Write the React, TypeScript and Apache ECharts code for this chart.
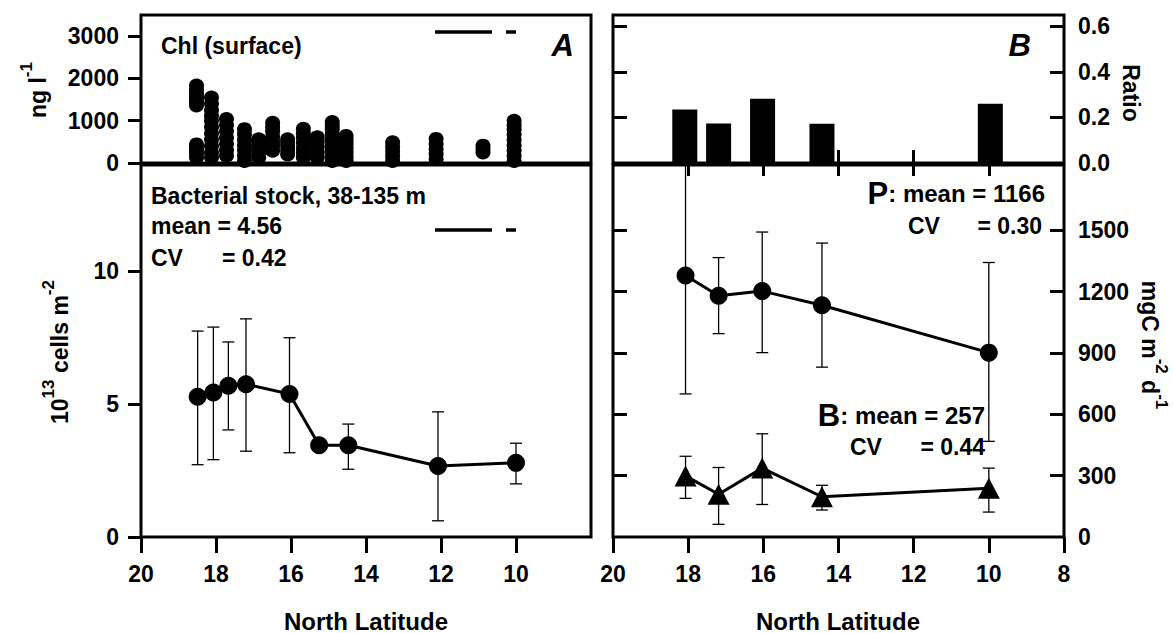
import React, { useEffect, useRef } from "react";
import * as echarts from "echarts";

// ---------- data ----------
// Panel A (top): surface chlorophyll, ng l-1, several samples per station
const chlLat = [18.52, 18.12, 17.72, 17.24, 16.86, 16.49, 16.09, 15.67, 15.3, 14.9, 14.53, 13.29, 12.13, 10.88, 10.05];
const chlValues = [
  [130, 220, 300, 370, 440, 1360, 1430, 1500, 1580, 1650, 1740, 1830],
  [130, 250, 400, 550, 700, 850, 1000, 1120, 1250, 1400, 1550],
  [170, 300, 450, 600, 750, 900, 1040],
  [50, 170, 300, 420, 550, 680, 800],
  [130, 240, 350, 460, 560],
  [290, 400, 500, 620, 750, 850, 950],
  [200, 300, 400, 480, 560],
  [130, 240, 350, 480, 600, 700, 810],
  [130, 250, 380, 500, 610],
  [50, 170, 300, 420, 550, 680, 800, 880, 970],
  [50, 150, 250, 350, 450, 540, 640],
  [50, 160, 270, 380, 490],
  [90, 210, 330, 450, 570],
  [250, 330, 410],
  [50, 170, 300, 420, 550, 680, 800, 900, 1000],
];

// Panel A (bottom): bacterial stock 10^13 cells m-2
const bactLat = [18.49, 18.07, 17.67, 17.2, 16.04, 15.25, 14.47, 12.08, 10.0];
const bactMean = [5.28, 5.44, 5.69, 5.75, 5.38, 3.45, 3.45, 2.67, 2.79];
const bactLo = [2.72, 2.91, 4.03, 3.23, 3.17, null, 2.55, 0.61, 2.0];
const bactHi = [7.75, 7.9, 7.34, 8.21, 7.5, null, 4.25, 4.71, 3.53];

// Panel B (top): ratio B/P
const ratioLat = [18.09, 17.19, 16.02, 14.44, 9.96];
const ratioValues = [0.235, 0.173, 0.282, 0.172, 0.26];

// Panel B (bottom): P and B, mgC m-2 d-1
const pbLat = [18.07, 17.19, 16.03, 14.44, 10.0];
const pMean = [1279, 1180, 1203, 1134, 902];
const pLo = [700, 995, 902, 831, 468];
const pHi = [1850, 1367, 1492, 1438, 1343];
const bMean = [299, 209, 337, 197, 238];
const bLo = [189, 62, 159, 132, 122];
const bHi = [395, 340, 505, 253, 337];

// tick labels
const latTicksLeft = [10, 12, 14, 16, 18, 20];
const latTicksRight = [8, 10, 12, 14, 16, 18, 20];
const latInnerTicks = [10, 12, 14, 16, 18];
const chlTicks = [0, 1000, 2000, 3000];
const bactTicks = [0, 5, 10];
const ratioTicks = [0, 0.2, 0.4, 0.6];
const prodTicks = [0, 300, 600, 900, 1200, 1500];

const FONT = '"Liberation Sans", Arial, Helvetica, sans-serif';
const BLACK = "#000";

export default function App() {
  const ref = useRef<HTMLDivElement>(null);

  useEffect(() => {
    if (!ref.current) return;
    const chart = echarts.init(ref.current, null, { renderer: "svg" });

    const chlData: number[][] = [];
    chlLat.forEach((lat, i) => chlValues[i].forEach((v) => chlData.push([lat, v])));

    const bactErr = bactLat
      .map((lat, i) => [lat, bactLo[i], bactHi[i]])
      .filter((d) => d[1] != null);
    const pErr = pbLat.map((lat, i) => [lat, pLo[i], pHi[i]]);
    const bErr = pbLat.map((lat, i) => [lat, bLo[i], bHi[i]]);

    const plain = (v: number) => String(v);
    const label = (extra: any = {}) => ({
      color: BLACK,
      fontFamily: FONT,
      fontWeight: "bold",
      fontSize: 23,
      formatter: plain,
      ...extra,
    });

    const errRender = (params: any, api: any) => {
      const x = api.value(0);
      const p1 = api.coord([x, api.value(1)]);
      const p2 = api.coord([x, api.value(2)]);
      const w = 6;
      const st = { stroke: BLACK, lineWidth: 1.3 };
      return {
        type: "group",
        children: [
          { type: "line", shape: { x1: p1[0], y1: p1[1], x2: p2[0], y2: p2[1] }, style: st },
          { type: "line", shape: { x1: p1[0] - w, y1: p1[1], x2: p1[0] + w, y2: p1[1] }, style: st },
          { type: "line", shape: { x1: p2[0] - w, y1: p2[1], x2: p2[0] + w, y2: p2[1] }, style: st },
        ],
      };
    };

    const gridBase = { show: true, borderColor: BLACK, borderWidth: 3, backgroundColor: "transparent" };
    const xBase = {
      type: "value",
      min: 8,
      max: 20,
      inverse: true,
      interval: 2,
      splitLine: { show: false },
      axisLine: { show: false },
    };
    const tickStyle = { color: BLACK, width: 3 };

    const txt = (text: string, x: number, y: number, extra: any = {}) => ({
      type: "text",
      x,
      y,
      style: {
        text,
        fill: BLACK,
        fontFamily: FONT,
        fontWeight: "bold",
        fontSize: 23,
        align: "left",
        verticalAlign: "middle",
        ...extra,
      },
    });

    const supRich = {
      a: { fontFamily: FONT, fontWeight: "bold", fontSize: 23, lineHeight: 40, fill: BLACK },
      s: { fontFamily: FONT, fontWeight: "bold", fontSize: 17, lineHeight: 18, verticalAlign: "top", fill: BLACK },
    };
    const bigRich = {
      b: { fontFamily: FONT, fontWeight: "bold", fontSize: 31, lineHeight: 30, fill: BLACK },
      s: { fontFamily: FONT, fontWeight: "bold", fontSize: 24, lineHeight: 30, fill: BLACK },
    };

    const option: any = {
      animation: false,
      backgroundColor: "#fff",
      grid: [
        { ...gridBase, left: 141, top: 15, width: 450, height: 148 },
        { ...gridBase, left: 613, top: 15, width: 451, height: 148 },
        { ...gridBase, left: 141, top: 165, width: 450, height: 372 },
        { ...gridBase, left: 613, top: 165, width: 451, height: 372 },
      ],
      xAxis: [
        { ...xBase, gridIndex: 0, axisTick: { show: false }, axisLabel: { show: false } },
        {
          ...xBase,
          gridIndex: 1,
          position: "bottom",
          axisTick: { inside: true, length: 13, lineStyle: tickStyle, customValues: latInnerTicks },
          axisLabel: { show: false },
        },
        {
          ...xBase,
          gridIndex: 1,
          position: "top",
          axisTick: { inside: true, length: 13, lineStyle: tickStyle, customValues: latInnerTicks },
          axisLabel: { show: false },
        },
        {
          ...xBase,
          gridIndex: 2,
          position: "bottom",
          axisTick: { inside: false, length: 16, lineStyle: tickStyle, customValues: latTicksLeft },
          axisLabel: label({ customValues: latTicksLeft, margin: 25 }),
        },
        {
          ...xBase,
          gridIndex: 3,
          position: "bottom",
          axisTick: { inside: false, length: 16, lineStyle: tickStyle, customValues: latTicksRight },
          axisLabel: label({ customValues: latTicksRight, margin: 25 }),
        },
      ],
      yAxis: [
        {
          type: "value",
          gridIndex: 0,
          position: "left",
          min: 0,
          max: 3500,
          interval: 1000,
          splitLine: { show: false },
          axisLine: { show: false },
          axisTick: { inside: false, length: 13, lineStyle: tickStyle, customValues: chlTicks },
          axisLabel: label({ customValues: chlTicks, margin: 22 }),
        },
        {
          type: "value",
          gridIndex: 1,
          position: "right",
          min: 0,
          max: 0.65,
          interval: 0.2,
          splitLine: { show: false },
          axisLine: { show: false },
          axisTick: { inside: true, length: 14, lineStyle: tickStyle, customValues: [0.2, 0.4, 0.6] },
          axisLabel: label({ customValues: ratioTicks, margin: 14, formatter: (v: number) => v.toFixed(1) }),
        },
        {
          type: "value",
          gridIndex: 1,
          position: "left",
          min: 0,
          max: 0.65,
          interval: 0.2,
          splitLine: { show: false },
          axisLine: { show: false },
          axisTick: { inside: true, length: 14, lineStyle: tickStyle, customValues: [0.2, 0.4, 0.6] },
          axisLabel: { show: false },
        },
        {
          type: "value",
          gridIndex: 2,
          position: "left",
          min: 0,
          max: 14,
          interval: 5,
          splitLine: { show: false },
          axisLine: { show: false },
          axisTick: { inside: false, length: 13, lineStyle: tickStyle, customValues: bactTicks },
          axisLabel: label({ customValues: bactTicks, margin: 22 }),
        },
        {
          type: "value",
          gridIndex: 3,
          position: "right",
          min: 0,
          max: 1820,
          interval: 300,
          splitLine: { show: false },
          axisLine: { show: false },
          axisTick: { inside: true, length: 14, lineStyle: tickStyle, customValues: prodTicks.slice(1) },
          axisLabel: label({ customValues: prodTicks, margin: 14 }),
        },
        {
          type: "value",
          gridIndex: 3,
          position: "left",
          min: 0,
          max: 1820,
          interval: 300,
          splitLine: { show: false },
          axisLine: { show: false },
          axisTick: { inside: true, length: 14, lineStyle: tickStyle, customValues: prodTicks.slice(1) },
          axisLabel: { show: false },
        },
      ],
      series: [
        {
          type: "scatter",
          xAxisIndex: 0,
          yAxisIndex: 0,
          symbol: "circle",
          symbolSize: [15, 14],
          itemStyle: { color: BLACK, opacity: 1 },
          clip: false,
          data: chlData,
        },
        {
          type: "bar",
          xAxisIndex: 1,
          yAxisIndex: 1,
          barWidth: 25,
          itemStyle: { color: BLACK },
          data: ratioLat.map((l, i) => [l, ratioValues[i]]),
        },
        {
          type: "custom",
          xAxisIndex: 3,
          yAxisIndex: 3,
          renderItem: errRender,
          clip: true,
          z: 1,
          encode: { x: 0, y: [1, 2] },
          data: bactErr,
        },
        {
          type: "line",
          xAxisIndex: 3,
          yAxisIndex: 3,
          symbol: "circle",
          symbolSize: 18,
          z: 3,
          itemStyle: { color: BLACK },
          lineStyle: { color: BLACK, width: 3 },
          data: bactLat.map((l, i) => [l, bactMean[i]]),
        },
        {
          type: "custom",
          xAxisIndex: 4,
          yAxisIndex: 4,
          renderItem: errRender,
          clip: true,
          z: 1,
          encode: { x: 0, y: [1, 2] },
          data: pErr,
        },
        {
          type: "custom",
          xAxisIndex: 4,
          yAxisIndex: 4,
          renderItem: errRender,
          clip: true,
          z: 1,
          encode: { x: 0, y: [1, 2] },
          data: bErr,
        },
        {
          type: "line",
          xAxisIndex: 4,
          yAxisIndex: 4,
          symbol: "circle",
          symbolSize: 18,
          z: 3,
          itemStyle: { color: BLACK },
          lineStyle: { color: BLACK, width: 3 },
          data: pbLat.map((l, i) => [l, pMean[i]]),
        },
        {
          type: "line",
          xAxisIndex: 4,
          yAxisIndex: 4,
          symbol: "triangle",
          symbolSize: [22, 21],
          z: 3,
          itemStyle: { color: BLACK },
          lineStyle: { color: BLACK, width: 3 },
          data: pbLat.map((l, i) => [l, bMean[i]]),
        },
      ],
      graphic: [
        txt("Chl (surface)", 161, 46),
        { type: "line", shape: { x1: 435, y1: 32, x2: 492, y2: 32 }, style: { stroke: BLACK, lineWidth: 3.5 } },
        { type: "line", shape: { x1: 506, y1: 32, x2: 516, y2: 32 }, style: { stroke: BLACK, lineWidth: 3.5 } },
        txt("A", 574, 45, { align: "right", fontSize: 31, fontStyle: "italic" }),
        txt("B", 1031, 45, { align: "right", fontSize: 31, fontStyle: "italic" }),
        txt("Bacterial stock, 38-135 m", 151, 196),
        txt("mean = 4.56", 151, 226),
        txt("CV", 151, 258),
        txt("= 0.42", 222, 258),
        { type: "line", shape: { x1: 435, y1: 230, x2: 492, y2: 230 }, style: { stroke: BLACK, lineWidth: 3.5 } },
        { type: "line", shape: { x1: 506, y1: 230, x2: 516, y2: 230 }, style: { stroke: BLACK, lineWidth: 3.5 } },
        {
          type: "text",
          x: 1045,
          y: 193,
          style: { text: "{b|P}{s|: mean = 1166}", rich: bigRich, align: "right", verticalAlign: "middle" },
        },
        txt("CV", 908, 226, { fontSize: 23 }),
        txt("= 0.30", 1042, 226, { fontSize: 23, align: "right" }),
        {
          type: "text",
          x: 985,
          y: 415,
          style: { text: "{b|B}{s|: mean = 257}", rich: bigRich, align: "right", verticalAlign: "middle" },
        },
        txt("CV", 850, 447, { fontSize: 23 }),
        txt("= 0.44", 985, 447, { fontSize: 23, align: "right" }),
        txt("North Latitude", 366, 621, { align: "center", fontSize: 24 }),
        txt("North Latitude", 838, 621, { align: "center", fontSize: 24 }),
        {
          type: "text",
          x: 38,
          y: 90,
          rotation: Math.PI / 2,
          style: { text: "{a|ng l}{s|-1}", rich: supRich, align: "center", verticalAlign: "middle" },
        },
        {
          type: "text",
          x: 60,
          y: 352,
          rotation: Math.PI / 2,
          style: { text: "{a|10}{s|13}{a| cells m}{s|-2}", rich: supRich, align: "center", verticalAlign: "middle" },
        },
        {
          type: "text",
          x: 1131,
          y: 93,
          rotation: -Math.PI / 2,
          style: {
            text: "Ratio",
            fill: BLACK,
            fontFamily: FONT,
            fontWeight: "bold",
            fontSize: 23,
            align: "center",
            verticalAlign: "middle",
          },
        },
        {
          type: "text",
          x: 1150,
          y: 345,
          rotation: -Math.PI / 2,
          style: { text: "{a|mgC m}{s|-2}{a| d}{s|-1}", rich: supRich, align: "center", verticalAlign: "middle" },
        },
      ],
    };

    chart.setOption(option);
    return () => chart.dispose();
  }, []);

  return (
    <div
      ref={ref}
      style={{ position: "fixed", left: 0, top: 0, width: 1173, height: 633, background: "#fff" }}
    />
  );
}
